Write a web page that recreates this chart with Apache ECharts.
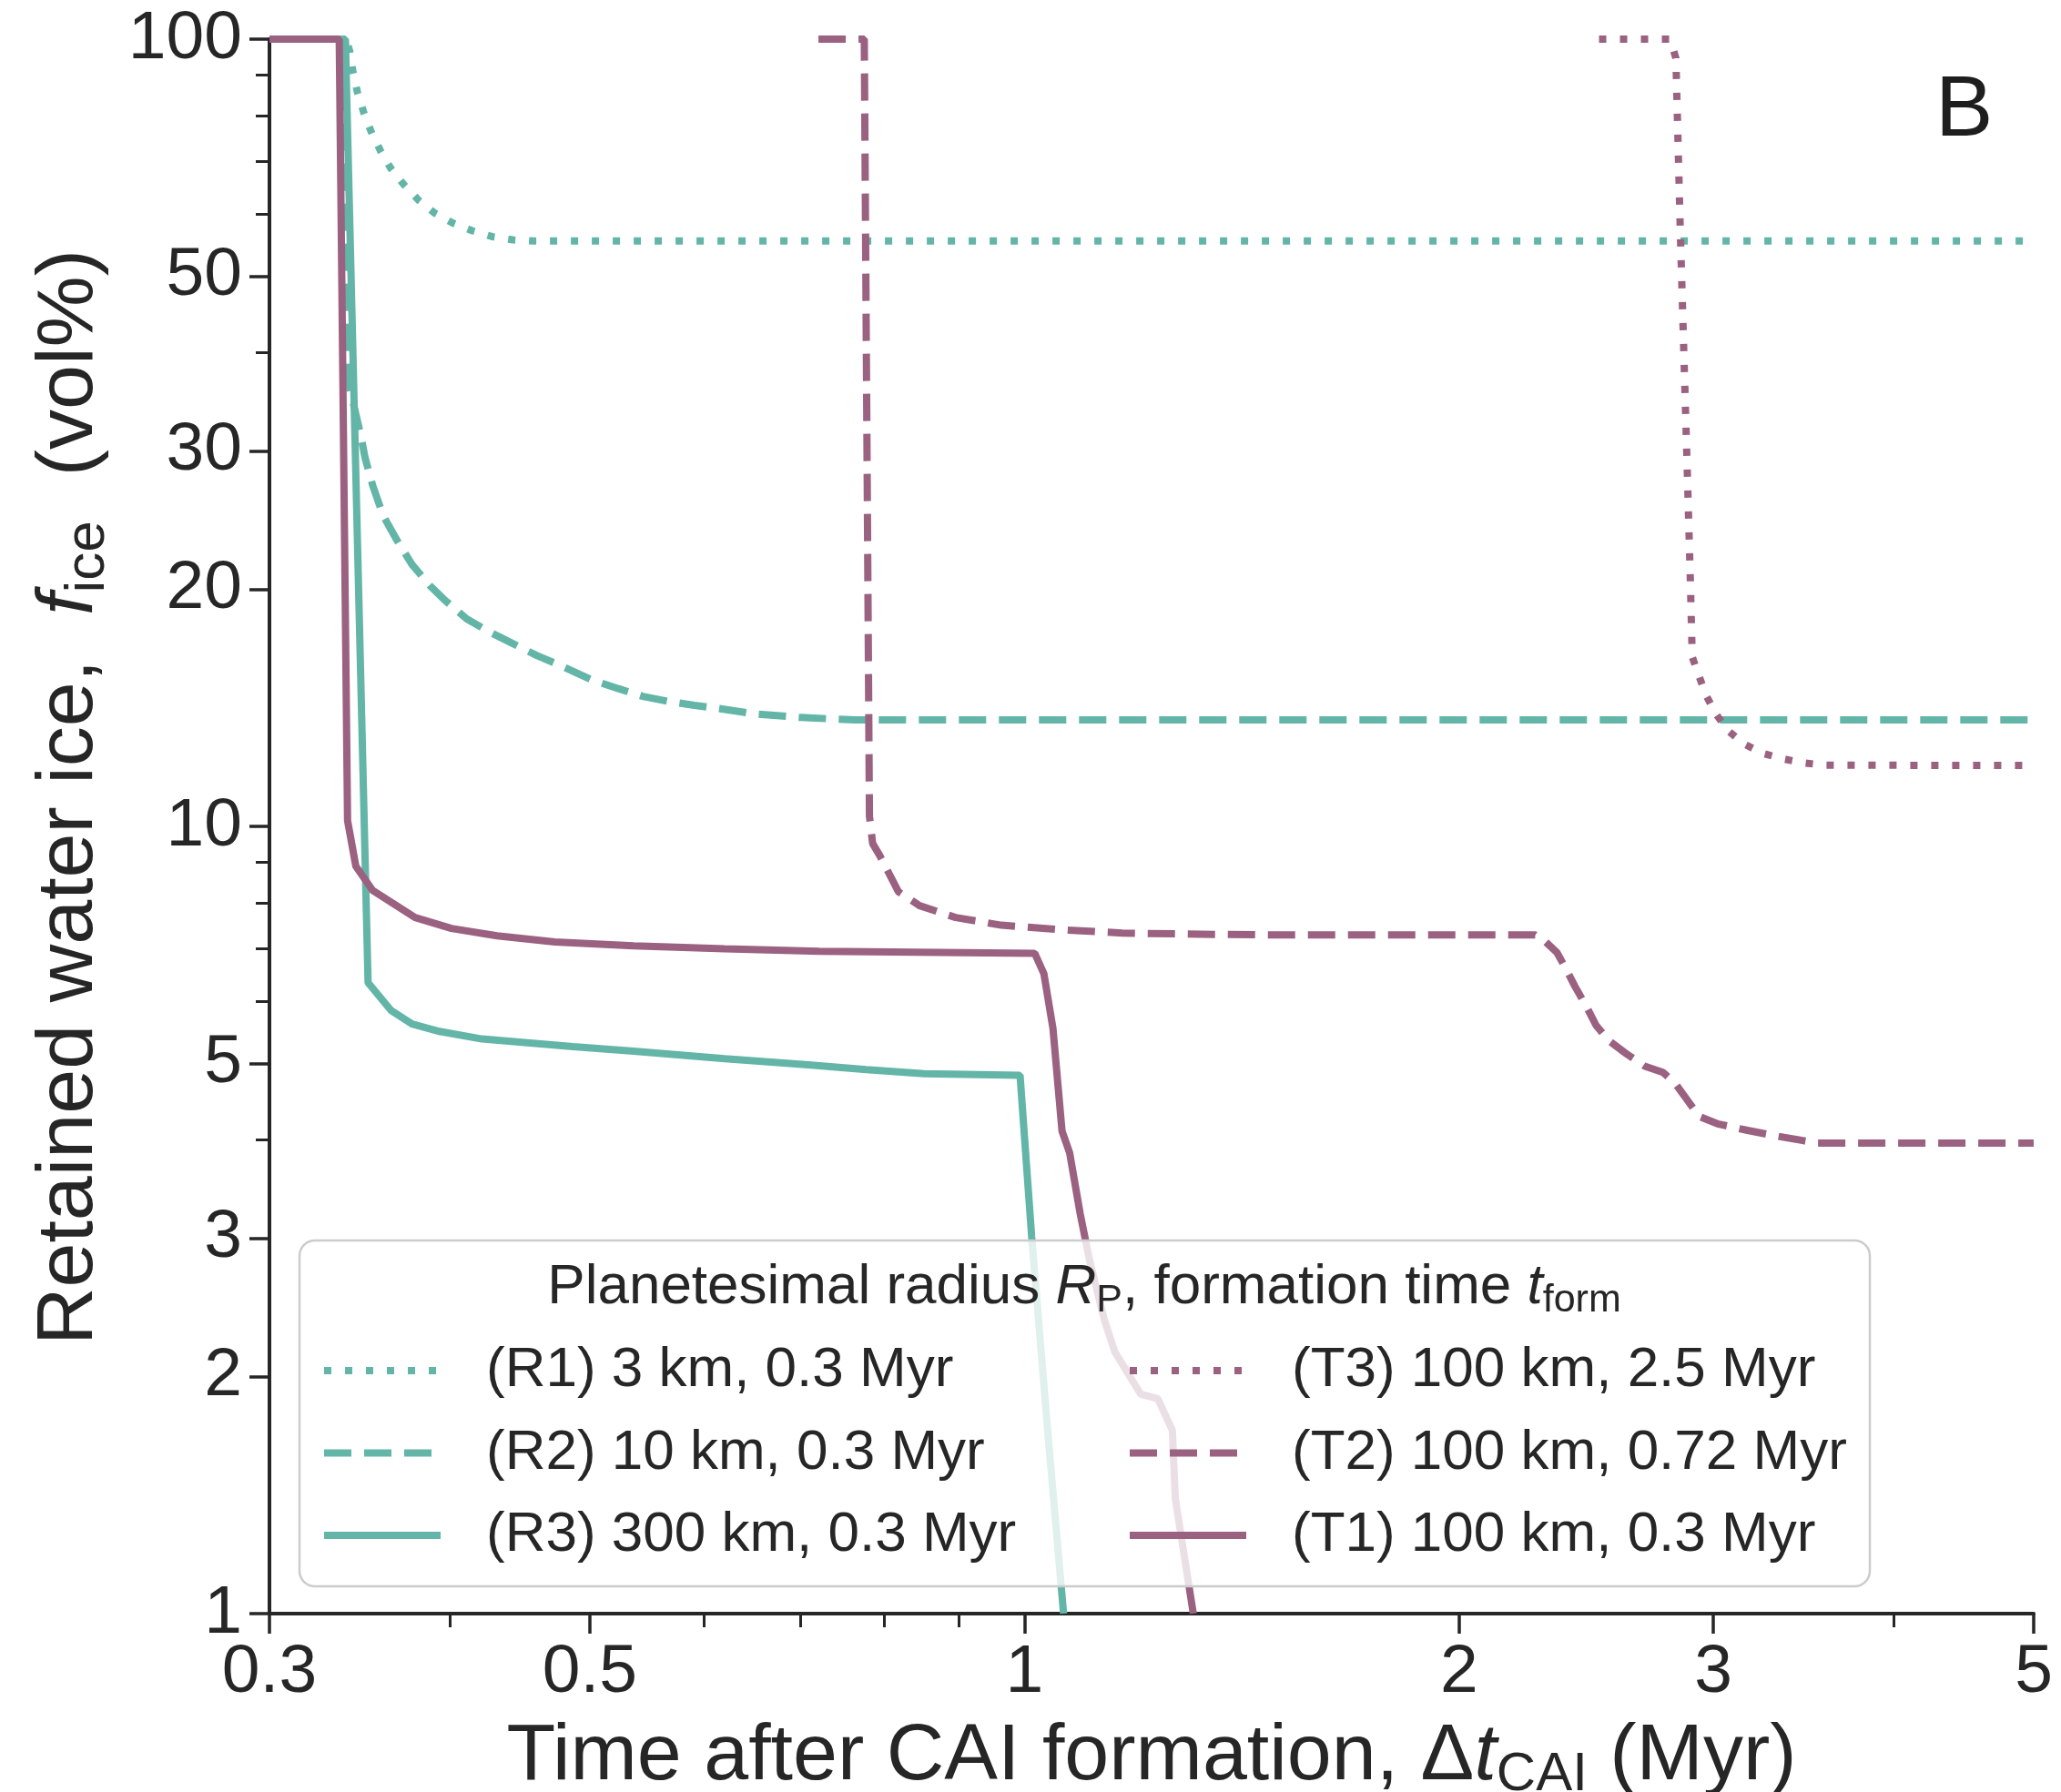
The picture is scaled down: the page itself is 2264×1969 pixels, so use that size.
<!DOCTYPE html>
<html>
<head>
<meta charset="utf-8">
<script src="https://cdn.jsdelivr.net/npm/echarts@6/dist/echarts.min.js"></script>
<style>
  html, body { margin: 0; padding: 0; background: #fff; }
  #chart { width: 2264px; height: 1969px; }
</style>
</head>
<body>
<div id="chart"></div>
<script>
// tick values
const xTicks = [0.3, 0.5, 1, 2, 3, 5]
const xMinorTicks = [0.4, 0.6, 0.7, 0.8, 0.9, 4]
const yTicks = [1, 2, 3, 5, 10, 20, 30, 50, 100]
const yMinorTicks = [4, 6, 7, 8, 9, 40, 60, 70, 80, 90]

// [time after CAI (Myr), retained ice (vol%)]
const r1 = [[0.3, 100], [0.339, 100], [0.341, 96.5], [0.3427, 90.9], [0.3452, 85.6], [0.3486, 80.8], [0.3528, 76.3],
  [0.358, 72.2], [0.3641, 68.5], [0.3718, 65.3], [0.3803, 62.5], [0.3906, 60.1], [0.4018, 58.4], [0.4145, 57.1],
  [0.4282, 56.1], [0.4423, 55.6], [0.457, 55.4], [5, 55.4]]
const r2 = [[0.3, 100], [0.3386, 100], [0.3394, 50.5], [0.341, 36], [0.3469, 31.5], [0.3494, 29.4], [0.3537, 27.1],
  [0.3597, 24.8], [0.3676, 23.1], [0.3766, 21.5], [0.3877, 20.2], [0.3972, 19.35], [0.4109, 18.35], [0.4251, 17.7],
  [0.4419, 17.08], [0.4593, 16.49], [0.4752, 16.06], [0.5012, 15.36], [0.5234, 14.96], [0.5441, 14.63],
  [0.5683, 14.4], [0.5907, 14.25], [0.6139, 14.12], [0.65, 13.9], [0.7, 13.75], [0.764, 13.65], [5, 13.65]]
const r3 = [[0.3, 100], [0.3386, 100], [0.3511, 6.33], [0.3641, 5.84], [0.3766, 5.61], [0.3934, 5.49], [0.421, 5.37],
  [0.4526, 5.31], [0.4868, 5.25], [0.5362, 5.18], [0.62, 5.07], [0.7083, 4.98], [0.777, 4.91], [0.852, 4.85],
  [0.993, 4.83], [1.0116, 3.01], [1.04, 1.63], [1.0644, 1]]
const t1 = [[0.3, 100], [0.3353, 100], [0.3398, 10.17], [0.3443, 8.9], [0.3537, 8.29], [0.3784, 7.66], [0.401, 7.42],
  [0.4313, 7.26], [0.4729, 7.13], [0.5362, 7.05], [0.62, 6.99], [0.721, 6.94], [1.0165, 6.9], [1.0315, 6.5],
  [1.0465, 5.54], [1.0618, 4.1], [1.0747, 3.85], [1.093, 3.22], [1.109, 2.82], [1.136, 2.36], [1.155, 2.15],
  [1.2037, 1.9], [1.237, 1.875], [1.266, 1.71], [1.272, 1.4], [1.309, 1]]
const t2 = [[0.72, 100], [0.7746, 100], [0.781, 10.3], [0.785, 9.51], [0.794, 9.18], [0.818, 8.26], [0.846, 7.93],
  [0.896, 7.66], [0.964, 7.49], [1.062, 7.39], [1.169, 7.32], [1.352, 7.29], [1.483, 7.28], [2.258, 7.28],
  [2.291, 7.16], [2.337, 6.92], [2.37, 6.61], [2.405, 6.27], [2.452, 5.89], [2.488, 5.59], [2.537, 5.35],
  [2.612, 5.14], [2.689, 4.96], [2.768, 4.87], [2.822, 4.72], [2.891, 4.44], [2.933, 4.28], [3.02, 4.19],
  [3.168, 4.11], [3.325, 4.04], [3.459, 3.99], [3.543, 3.96], [5, 3.96]]
const t3 = [[2.5, 100], [2.8, 100], [2.826, 94.6], [2.846, 56.9], [2.877, 28.8], [2.892, 20.5], [2.898, 17.5],
  [2.901, 16.4], [2.933, 15.5], [2.966, 14.66], [3.012, 13.9], [3.071, 13.23], [3.15, 12.73], [3.247, 12.38],
  [3.354, 12.18], [3.465, 12.04], [3.582, 11.96], [5, 11.95]]

const leftNames = ['(R1) 3 km, 0.3 Myr', '(R2) 10 km, 0.3 Myr', '(R3) 300 km, 0.3 Myr']
const rightNames = ['(T3) 100 km, 2.5 Myr', '(T2) 100 km, 0.72 Myr', '(T1) 100 km, 0.3 Myr']

const teal = '#63b5a7'
const purple = '#9b6181'
const ink = '#262626'
const font = 'Liberation Sans, Arial, sans-serif'
const lw = 8
const dotted = [8, 15]
const dashed = [30, 14]

let myChart = echarts.init(document.getElementById('chart'))

function makeLine (name, data, color, type) {
  return {
    name: name,
    type: 'line',
    data: data,
    symbol: 'none',
    showSymbol: false,
    clip: true,
    lineStyle: { color: color, width: lw, type: type, cap: 'butt' },
    itemStyle: { color: color },
    z: 2
  }
}

function fmt (v) {
  return String(parseFloat(Number(v).toPrecision(4)))
}

let legendBase = {
  orient: 'vertical',
  top: 1475,
  padding: 0,
  itemWidth: 128,
  itemHeight: 20,
  itemGap: 28.5,
  selectedMode: false,
  itemStyle: { opacity: 0 },
  lineStyle: { width: lw, type: 'inherit', cap: 'butt' },
  textStyle: { fontSize: 62, lineHeight: 62, color: ink, fontFamily: font, padding: [0, 0, 0, 45] },
  z: 20
}

let option = {
  animation: false,
  backgroundColor: '#ffffff',
  grid: { left: 296, right: 30, top: 43, bottom: 196, containLabel: false, outerBoundsMode: 'none' },
  xAxis: [
    {
      type: 'log',
      logBase: 10,
      min: 0.3,
      max: 5,
      position: 'bottom',
      axisLine: { show: true, lineStyle: { color: ink, width: 4 } },
      axisTick: { show: true, customValues: xTicks, length: 22, lineStyle: { color: ink, width: 3.5 } },
      axisLabel: { show: true, customValues: xTicks, formatter: fmt, fontSize: 75, color: ink, fontFamily: font, margin: 28 },
      splitLine: { show: false },
      minorTick: { show: false },
      name: 'Time after CAI formation, \u0394{it|t}{sub|CAI} (Myr)',
      nameLocation: 'middle',
      nameGap: 106,
      nameTextStyle: {
        fontSize: 88, color: ink, fontFamily: font, lineHeight: 100,
        rich: {
          it: { fontSize: 88, fontStyle: 'italic', color: ink, fontFamily: font },
          sub: { fontSize: 60, color: ink, fontFamily: font, padding: [40, 0, 0, 0] }
        }
      }
    },
    {
      type: 'log',
      logBase: 10,
      min: 0.3,
      max: 5,
      position: 'bottom',
      axisLine: { show: false },
      axisTick: { show: true, customValues: xMinorTicks, length: 15, lineStyle: { color: ink, width: 3 } },
      axisLabel: { show: false },
      splitLine: { show: false }
    }
  ],
  yAxis: [
    {
      type: 'log',
      logBase: 10,
      min: 1,
      max: 100,
      position: 'left',
      axisLine: { show: true, lineStyle: { color: ink, width: 4 } },
      axisTick: { show: true, customValues: yTicks, length: 22, lineStyle: { color: ink, width: 3.5 } },
      axisLabel: { show: true, customValues: yTicks, formatter: fmt, fontSize: 75, color: ink, fontFamily: font, margin: 30 },
      splitLine: { show: false },
      name: 'Retained water ice,  {it|f}{sub|ice}  (vol%)',
      nameLocation: 'middle',
      nameRotate: 90,
      nameGap: 169,
      nameTextStyle: {
        fontSize: 88, color: ink, fontFamily: font, lineHeight: 100,
        padding: [0, 0, 0, 64],
        rich: {
          it: { fontSize: 88, fontStyle: 'italic', color: ink, fontFamily: font },
          sub: { fontSize: 62, color: ink, fontFamily: font, padding: [40, 0, 0, 0] }
        }
      }
    },
    {
      type: 'log',
      logBase: 10,
      min: 1,
      max: 100,
      position: 'left',
      axisLine: { show: false },
      axisTick: { show: true, customValues: yMinorTicks, length: 15, lineStyle: { color: ink, width: 3 } },
      axisLabel: { show: false },
      splitLine: { show: false }
    }
  ],
  legend: [
    Object.assign({}, legendBase, { left: 352, data: leftNames }),
    Object.assign({}, legendBase, { left: 1237, data: rightNames })
  ],
  graphic: [
    {
      type: 'rect',
      z: 10,
      shape: { x: 329, y: 1363, width: 1725, height: 380, r: 17 },
      style: { fill: 'rgba(255,255,255,0.8)', stroke: '#cccccc', lineWidth: 2.5 }
    },
    {
      type: 'text',
      z: 20,
      x: 1191,
      y: 1415,
      style: {
        text: 'Planetesimal radius {it|R}{sub|P}, formation time {it|t}{sub|form}',
        align: 'center',
        verticalAlign: 'middle',
        fontSize: 62,
        fontFamily: font,
        fill: ink,
        lineHeight: 72,
        rich: {
          it: { fontSize: 62, fontStyle: 'italic', fontFamily: font, fill: ink },
          sub: { fontSize: 43, fontFamily: font, fill: ink, padding: [28, 0, 0, 0] }
        }
      }
    },
    {
      type: 'text',
      z: 20,
      x: 2126,
      y: 123,
      style: { text: 'B', fontSize: 95, fontFamily: font, fill: '#1e1e1e', align: 'left', verticalAlign: 'middle' }
    }
  ],
  series: [
    makeLine(leftNames[0], r1, teal, dotted),
    makeLine(leftNames[1], r2, teal, dashed),
    makeLine(leftNames[2], r3, teal, 'solid'),
    makeLine(rightNames[0], t3, purple, dotted),
    makeLine(rightNames[1], t2, purple, dashed),
    makeLine(rightNames[2], t1, purple, 'solid')
  ]
}

myChart.setOption(option)
</script>
</body>
</html>
